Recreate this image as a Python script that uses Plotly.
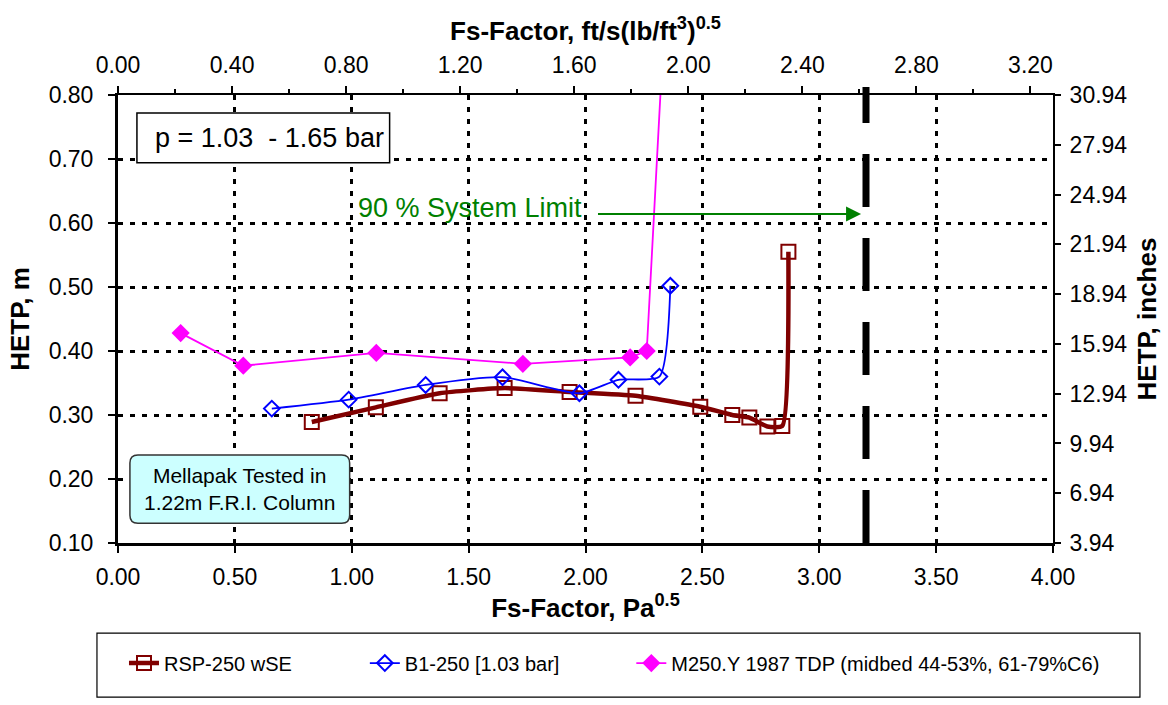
import plotly.graph_objects as go

# ---------------- data ----------------
rsp_x = [0.829, 1.103, 1.376, 1.654, 1.932, 2.214, 2.491, 2.628, 2.701, 2.778, 2.842, 2.868]
rsp_y = [0.289, 0.312, 0.334, 0.342, 0.336, 0.330, 0.313, 0.300, 0.296, 0.282, 0.283, 0.555]

b1_x = [0.658, 0.987, 1.316, 1.645, 1.974, 2.141, 2.316, 2.363]
b1_y = [0.310, 0.324, 0.347, 0.359, 0.334, 0.355, 0.360, 0.502]

m250_x = [0.268, 0.536, 1.105, 1.732, 2.191, 2.262, 2.335]
m250_y = [0.428, 0.377, 0.397, 0.380, 0.390, 0.400, 0.900]

series_names = ["RSP-250 wSE", "B1-250 [1.03 bar]", "M250.Y 1987 TDP (midbed 44-53%, 61-79%C6)"]

system_limit_x = 3.20           # Pa^0.5, 90 % system limit
x_range = [0.0, 4.0]
y_range = [0.10, 0.80]
inch_range = [3.94, 30.94]
conv_fs = 1.2199                # Pa^0.5 per ft/s(lb/ft3)^0.5

FONT = "Arial, Liberation Sans, sans-serif"

fig = go.Figure()

fig.add_trace(go.Scatter(
    x=rsp_x, y=rsp_y, name=series_names[0], mode="lines+markers", legend="legend",
    line=dict(color="#800000", width=4.5, shape="spline", smoothing=0.5),
    marker=dict(symbol="square-open", size=14, color="#800000", line=dict(width=2)),
))
fig.add_trace(go.Scatter(
    x=b1_x, y=b1_y, name=series_names[1], mode="lines+markers", legend="legend2",
    line=dict(color="#0000FF", width=1.8, shape="spline", smoothing=0.6),
    marker=dict(symbol="diamond-open", size=12, color="#0000FF", line=dict(width=2)),
))
fig.add_trace(go.Scatter(
    x=m250_x, y=m250_y, name=series_names[2], mode="lines+markers", legend="legend3",
    line=dict(color="#FF00FF", width=1.8),
    marker=dict(symbol="diamond", size=14, color="#FF00FF"),
))
# empty trace to activate the secondary axes
fig.add_trace(go.Scatter(x=[None], y=[None], xaxis="x2", yaxis="y2",
                         showlegend=False, hoverinfo="skip"))

grid = dict(showgrid=True, gridcolor="black", gridwidth=3, griddash="5px,7px")
leg = dict(orientation="h", xanchor="left", y=-0.268, yanchor="middle",
           font=dict(size=20), bgcolor="rgba(0,0,0,0)")

fig.update_layout(
    width=1168, height=705,
    margin=dict(l=118, r=115, t=95, b=162, autoexpand=False),
    paper_bgcolor="white", plot_bgcolor="white",
    font=dict(family=FONT, size=23, color="black"),
    showlegend=True,
    legend=dict(x=0.0064, **leg),
    legend2=dict(x=0.264, **leg),
    legend3=dict(x=0.549, **leg),
    xaxis=dict(range=x_range, dtick=0.5, tick0=0, tickformat=".2f", zeroline=False,
               showline=True, linecolor="black", linewidth=3,
               ticks="outside", ticklen=7, tickwidth=2, tickcolor="black",
               ticklabelstandoff=4,
               title=dict(text="<b>Fs-Factor, Pa<sup>0.5</sup></b>", font=dict(size=26), standoff=1),
               **grid),
    yaxis=dict(range=y_range, dtick=0.1, tick0=0.1, tickformat=".2f", zeroline=False,
               showline=True, linecolor="black", linewidth=3,
               ticks="outside", ticklen=7, tickwidth=2, tickcolor="black",
               ticklabelstandoff=10,
               title=dict(text="<b>HETP, m</b>", font=dict(size=26), standoff=12),
               **grid),
    xaxis2=dict(overlaying="x", side="top", anchor="y",
                range=[x_range[0] / conv_fs, x_range[1] / conv_fs], dtick=0.4, tick0=0,
                tickformat=".2f", showgrid=False, zeroline=False,
                showline=True, linecolor="black", linewidth=2,
                ticks="outside", ticklen=7, tickwidth=1.5, tickcolor="black",
                minor=dict(dtick=0.2, ticks="outside", ticklen=4, tickcolor="black", showgrid=False),
                ticklabelstandoff=4,
                title=dict(text="<b>Fs-Factor, ft/s(lb/ft<sup>3</sup>)<sup>0.5</sup></b>",
                           font=dict(size=26), standoff=4)),
    yaxis2=dict(overlaying="y", side="right", anchor="x",
                range=inch_range, dtick=3, tick0=inch_range[0], tickformat=".2f",
                showgrid=False, zeroline=False,
                showline=True, linecolor="black", linewidth=2,
                ticks="outside", ticklen=6, tickwidth=1.5, tickcolor="black",
                ticklabelstandoff=4,
                title=dict(text="<b>HETP, inches</b>", font=dict(size=26), standoff=11)),
)

# 90 % system limit: thick dashed vertical line
fig.add_shape(type="line", xref="x", yref="paper", x0=system_limit_x, x1=system_limit_x,
              y0=0.0, y1=1.018, line=dict(color="black", width=7, dash="53px,31px"))

# legend frame
fig.add_shape(type="rect", xref="paper", yref="paper", x0=-0.0225, x1=1.093,
              y0=-0.344, y1=-0.201, line=dict(color="black", width=1.2), fillcolor="rgba(0,0,0,0)")

# pressure box
fig.add_shape(type="rect", xref="x", yref="y", x0=0.081, x1=1.162, y0=0.694, y1=0.772,
              line=dict(color="black", width=1.5), fillcolor="white", layer="above")
fig.add_annotation(x=0.65, y=0.733, xref="x", yref="y", text="p = 1.03  - 1.65 bar",
                   showarrow=False, font=dict(size=27))

# Mellapak rounded box
x0, x1, y0, y1 = 0.051, 0.991, 0.131, 0.2375
rx, ry = 0.034, 0.0125
path = (f"M {x0+rx},{y0} L {x1-rx},{y0} Q {x1},{y0} {x1},{y0+ry} "
        f"L {x1},{y1-ry} Q {x1},{y1} {x1-rx},{y1} L {x0+rx},{y1} "
        f"Q {x0},{y1} {x0},{y1-ry} L {x0},{y0+ry} Q {x0},{y0} {x0+rx},{y0} Z")
fig.add_shape(type="path", xref="x", yref="y", path=path, fillcolor="#CCFFFF",
              line=dict(color="#333333", width=1.5), layer="above")
fig.add_annotation(x=0.521, y=0.184, xref="x", yref="y",
                   text="Mellapak Tested in<br>1.22m F.R.I. Column",
                   showarrow=False, font=dict(size=21))

# green arrow and label
fig.add_annotation(x=3.179, y=0.614, ax=2.047, ay=0.614, xref="x", yref="y",
                   axref="x", ayref="y", text="", showarrow=True,
                   arrowhead=2, arrowsize=1.5, arrowwidth=2, arrowcolor="#008000")
fig.add_annotation(x=1.504, y=0.623, xref="x", yref="y", text="90 % System Limit",
                   showarrow=False, font=dict(size=27, color="#008000"))

fig.write_html("out.html")
